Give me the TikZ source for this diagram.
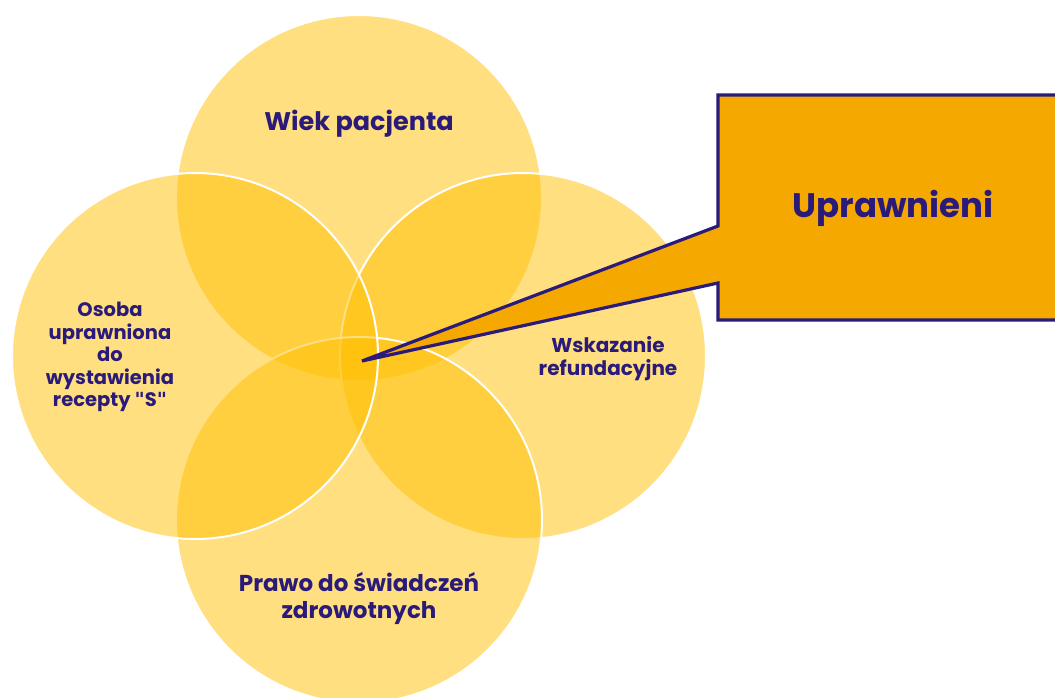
\documentclass[tikz,border=0pt]{standalone}
\usepackage{fontspec}
\setmainfont{Poppins}
\newfontfamily\quotefont{DejaVu Sans}
\definecolor{navy}{HTML}{2A1B7A}
\definecolor{venn}{HTML}{FFC000}
\definecolor{callfill}{HTML}{F5A800}
\newcommand{\sq}{{\quotefont\symbol{34}}}
\begin{document}
\begin{tikzpicture}[x=1pt,y=-1pt,
  vcircle/.style={fill=venn,fill opacity=0.5,draw=white,line width=2pt},
  vlabel/.style={text=navy,font=\bfseries,align=center,inner sep=0pt},
  callout/.style={fill=callfill,draw=navy,line width=3.2pt,line join=miter}]
\clip (0,0) rectangle (1055,697);
\useasboundingbox (0,0) rectangle (1055,697);
\fill[white] (0,0) rectangle (1055,697);
% circles, drawn in order top, right, bottom, left
\path[vcircle] (359,198) circle (183pt);
\path[vcircle] (523,356) circle (183pt);
\path[vcircle] (359,520) circle (183pt);
\path[vcircle] (195,356) circle (183pt);
% labels
\node[vlabel,font=\bfseries\fontsize{25.5}{30}\selectfont] (wiek) at (359,124) {Wiek pacjenta};
\node[vlabel,font=\bfseries\fontsize{20}{23}\selectfont] (wsk) at (608,359) {Wskazanie\\refundacyjne};
\node[vlabel,font=\bfseries\fontsize{19.5}{22.5}\selectfont] (osoba) at (110,357) {Osoba\\uprawniona\\do\\wystawienia\\recepty \sq S\sq};
\node[vlabel,font=\bfseries\fontsize{23}{27}\selectfont] (prawo) at (359,598) {Prawo do świadczeń\\zdrowotnych};
% callout
\coordinate (tip) at (362,361);
\draw[callout] (718,95) -- (1075,95) -- (1075,320) -- (718,320) -- (718,283) -- (tip) -- (718,226) -- cycle;
\node[vlabel,font=\bfseries\fontsize{34}{40}\selectfont] (upr) at (893,208) {Uprawnieni};
\end{tikzpicture}
\end{document}
